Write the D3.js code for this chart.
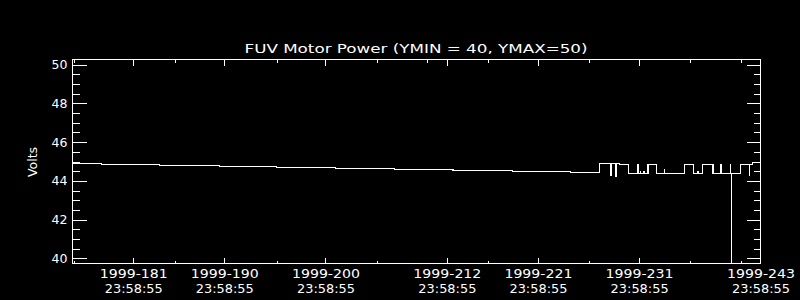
<!DOCTYPE html>
<html>
<head>
<meta charset="utf-8">
<script src="https://cdn.jsdelivr.net/npm/d3@7"></script>
<style>
  html, body { margin: 0; padding: 0; background: #000; }
  svg { display: block; }
  text { font-family: "DejaVu Sans", sans-serif; fill: #fff; }
</style>
</head>
<body>
<svg id="chart" width="800" height="300"></svg>
<script>
// ---- data (fractional day of year 1999) ----
const traceDays = [176.0, 178.9, 184.6, 190.5, 196.2, 202.0, 207.85, 213.6, 219.45, 225.2,
  228.1, 229.2, 229.25, 229.7, 229.75, 230.07, 230.96, 231.85, 231.9, 232.1, 232.15, 232.45, 232.5,
  232.88, 233.7, 234.5, 234.55, 236.5, 237.4, 237.8, 237.85, 238.3, 239.3, 240.1, 240.15,
  241.0, 241.05, 241.1, 241.15, 242.05, 242.9, 242.95, 243.2, 244.0];
const traceVolts = [44.90, 44.85, 44.80, 44.75, 44.70, 44.64, 44.59, 44.54, 44.49, 44.44,
  44.91, 44.27, 44.91, 44.22, 44.91, 44.86, 44.39, 44.86, 44.39, 44.47, 44.39, 44.47, 44.39,
  44.86, 44.39, 44.56, 44.39, 44.86, 44.39, 44.47, 44.39, 44.86, 44.39, 44.86, 44.39,
  44.86, 44.39, 38.0, 44.39, 44.86, 44.30, 44.86, 44.94, 44.94];

const xDomain = [176.0, 244.0];
const yDomain = [39.74, 50.26];
const timeOfDay = (23 * 3600 + 58 * 60 + 55) / 86400;
const majorDoy = [181, 190, 200, 212, 221, 231, 243];
const majorLabels1 = ["1999-181", "1999-190", "1999-200", "1999-212", "1999-221", "1999-231", "1999-243"];
const majorLabels2 = ["23:58:55", "23:58:55", "23:58:55", "23:58:55", "23:58:55", "23:58:55", "23:58:55"];
const minorDays = [176.1, 186.1, 196.17, 206.07, 217.06, 227.0, 237.0, 242.04];
const minorDaysTopExtra = [211.08];
const yMajor = [40, 42, 44, 46, 48, 50];
const yMinor = [40.5, 41, 41.5, 42.5, 43, 43.5, 44.5, 45, 45.5, 46.5, 47, 47.5, 48.5, 49, 49.5];
const titleText = "FUV Motor Power (YMIN = 40, YMAX=50)";
const yTitle = "Volts";

// ---- layout ----
const L = 72.5, R = 760.5, T = 59.5, B = 263.5;
const svg = d3.select("#chart");
svg.append("rect").attr("width", 800).attr("height", 300).attr("fill", "#000");

const x = d3.scaleLinear().domain(xDomain).range([L, R]);
const y = d3.scaleLinear().domain(yDomain).range([B, T]);

const majorX = majorDoy.map(d => d + timeOfDay);

function styleAxis(g) {
  g.select(".domain").remove();
  g.selectAll("line").attr("stroke", "#fff").attr("shape-rendering", "crispEdges");
  g.selectAll("text").attr("fill", "#fff").attr("font-family", "DejaVu Sans, sans-serif").attr("font-size", 12.5);
}

// bottom major with two-line labels
const gB = svg.append("g").attr("transform", `translate(0,${B})`)
  .call(d3.axisBottom(x).tickValues(majorX).tickSize(-6).tickPadding(6).tickFormat(() => ""))
  .call(styleAxis);
gB.selectAll(".tick text").each(function(d, i) {
  const t = d3.select(this);
  t.text(null);
  t.append("tspan").attr("x", 0).attr("dy", "0.71em").attr("textLength", 68).attr("lengthAdjust", "spacingAndGlyphs").text(majorLabels1[i]);
  t.append("tspan").attr("x", 0).attr("dy", "1.15em").attr("textLength", 58).attr("lengthAdjust", "spacingAndGlyphs").text(majorLabels2[i]);
});
svg.append("g").attr("transform", `translate(0,${B})`)
  .call(d3.axisBottom(x).tickValues(minorDays).tickSize(-3).tickFormat(() => ""))
  .call(styleAxis);

// top
svg.append("g").attr("transform", `translate(0,${T})`)
  .call(d3.axisTop(x).tickValues(majorX).tickSize(-6).tickFormat(() => ""))
  .call(styleAxis);
svg.append("g").attr("transform", `translate(0,${T})`)
  .call(d3.axisTop(x).tickValues(minorDays.concat(minorDaysTopExtra)).tickSize(-3).tickFormat(() => ""))
  .call(styleAxis);

// left
svg.append("g").attr("transform", `translate(${L},0)`)
  .call(d3.axisLeft(y).tickValues(yMajor).tickSize(-14).tickPadding(5).tickFormat(d3.format("d")))
  .call(styleAxis);
svg.append("g").attr("transform", `translate(${L},0)`)
  .call(d3.axisLeft(y).tickValues(yMinor).tickSize(-7).tickFormat(() => ""))
  .call(styleAxis);
// right
svg.append("g").attr("transform", `translate(${R},0)`)
  .call(d3.axisRight(y).tickValues(yMajor).tickSize(-14).tickFormat(() => ""))
  .call(styleAxis);
svg.append("g").attr("transform", `translate(${R},0)`)
  .call(d3.axisRight(y).tickValues(yMinor).tickSize(-7).tickFormat(() => ""))
  .call(styleAxis);

// frame
svg.append("rect").attr("x", L).attr("y", T).attr("width", R - L).attr("height", B - T)
  .attr("fill", "none").attr("stroke", "#fff").attr("stroke-width", 1).attr("shape-rendering", "crispEdges");

// clip
svg.append("clipPath").attr("id", "clip").append("rect")
  .attr("x", L).attr("y", T).attr("width", R - L).attr("height", B - T);

const pts = traceDays.map((d, i) => [d, traceVolts[i]]);
const line = d3.line().x(d => x(d[0])).y(d => y(d[1])).curve(d3.curveStepAfter);
svg.append("path").datum(pts).attr("clip-path", "url(#clip)")
  .attr("d", line).attr("fill", "none").attr("stroke", "#fff").attr("stroke-width", 1.2)
  .attr("shape-rendering", "crispEdges");

// title
svg.append("text").attr("x", 416).attr("y", 53).attr("text-anchor", "middle")
  .attr("font-size", 13).attr("textLength", 343).attr("lengthAdjust", "spacingAndGlyphs").text(titleText);
// y title
svg.append("text").attr("transform", "translate(37,162) rotate(-90)").attr("text-anchor", "middle")
  .attr("font-size", 12.5).text(yTitle);
</script>
</body>
</html>
